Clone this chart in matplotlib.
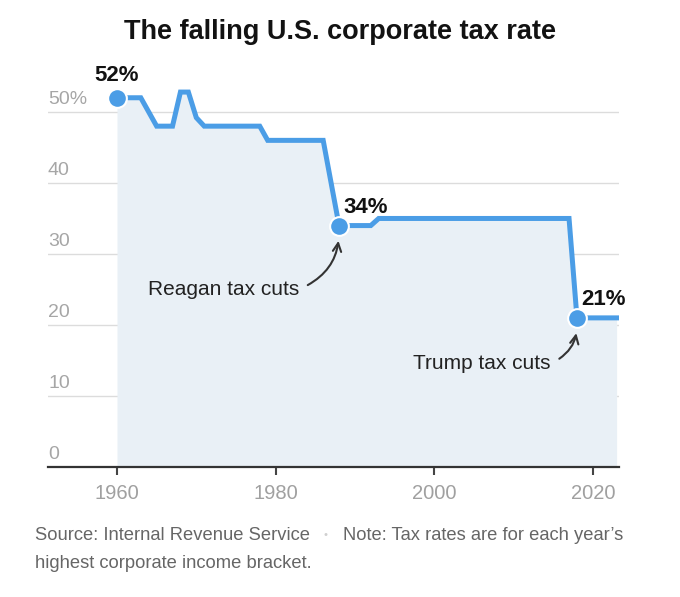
# The falling U.S. corporate tax rate, 1960-2023

import matplotlib.pyplot as plt

plt.rcParams['font.family'] = ['Liberation Sans', 'DejaVu Sans']

# top marginal corporate rate, one value per year
years = list(range(1960, 2024))
rate = ([52, 52, 52, 52, 50, 48, 48, 48, 52.8, 52.8, 49.2]
        + [48] * 8          # 1971-1978
        + [46] * 8          # 1979-1986
        + [40]              # 1987
        + [34] * 5          # 1988-1992
        + [35] * 25         # 1993-2017
        + [21] * 6)         # 2018-2023

# highlighted points
hl_years = [1960, 1988, 2018]
hl_rates = [52, 34, 21]
hl_labels = ['52%', '34%', '21%']

yticks = [0, 10, 20, 30, 40, 50]
ytick_labels = ['0', '10', '20', '30', '40', '50%']
xticks = [1960, 1980, 2000, 2020]

blue = '#4b9de6'

fig = plt.figure(figsize=(6.8, 5.97), dpi=100)
ax = fig.add_axes([48 / 680, 130 / 597, 571 / 680, 387 / 597])
ax.set_xlim(1951.3, 2023.3)
ax.set_ylim(0, 54.5)

ax.fill_between(years, rate, 0, color='#e9f0f6', lw=0, zorder=1)
for t in yticks[1:]:
    ax.axhline(t, color='#dcdcdc', lw=1, zorder=0)
ax.plot(years, rate, color=blue, lw=3.6, solid_joinstyle='miter', zorder=3)
ax.plot(hl_years, hl_rates, 'o', ms=13.5, color=blue, mec='white', mew=1.5, zorder=4)

for t, lab in zip(yticks, ytick_labels):
    ax.text(1951.3, t + 0.5, lab, ha='left', va='bottom', fontsize=14, color='#a6a6a6')

# value labels
ax.annotate(hl_labels[0], (hl_years[0], hl_rates[0]), xytext=(0, 16), textcoords='offset points',
            ha='center', va='center', fontsize=16, fontweight='bold', color='#121212')
for i in (1, 2):
    ax.annotate(hl_labels[i], (hl_years[i], hl_rates[i]), xytext=(3, 13), textcoords='offset points',
                ha='left', va='center', fontsize=16, fontweight='bold', color='#121212')

ax.annotate('Reagan tax cuts', (hl_years[1], hl_rates[1]), xytext=(-29, -46), textcoords='offset points',
            ha='right', va='center', fontsize=15, color='#222222',
            arrowprops=dict(arrowstyle='->', color='#333333', lw=1.5, relpos=(1, 0.5),
                            shrinkA=5, shrinkB=11, connectionstyle='arc3,rad=0.35'))
ax.annotate('Trump tax cuts', (hl_years[2], hl_rates[2]), xytext=(-19, -33), textcoords='offset points',
            ha='right', va='center', fontsize=15, color='#222222',
            arrowprops=dict(arrowstyle='->', color='#333333', lw=1.5, relpos=(1, 0.5),
                            shrinkA=5, shrinkB=11, connectionstyle='arc3,rad=0.35'))

for s in ['top', 'right', 'left']:
    ax.spines[s].set_visible(False)
ax.spines['bottom'].set_color('#333333')
ax.spines['bottom'].set_linewidth(1.6)
ax.set_yticks([])
ax.set_xticks(xticks)
ax.tick_params(axis='x', length=6, width=1.5, color='#444444', pad=6,
               labelsize=14.5, labelcolor='#a0a0a0')

fig.text(0.5, 1 - 32 / 597, 'The falling U.S. corporate tax rate', ha='center', va='center',
         fontsize=19.5, fontweight='bold', color='#121212')

foot = dict(fontsize=13.2, color='#666666', va='center')
fig.text(35 / 680, 1 - 535 / 597, 'Source: Internal Revenue Service', ha='left', **foot)
fig.text(325 / 680, 1 - 535 / 597, '•', ha='center', va='center', fontsize=8, color='#d0d0d0')
fig.text(343 / 680, 1 - 535 / 597, 'Note: Tax rates are for each year\u2019s', ha='left', **foot)
fig.text(35 / 680, 1 - 563 / 597, 'highest corporate income bracket.', ha='left', **foot)

plt.savefig('out.png', dpi=100)
